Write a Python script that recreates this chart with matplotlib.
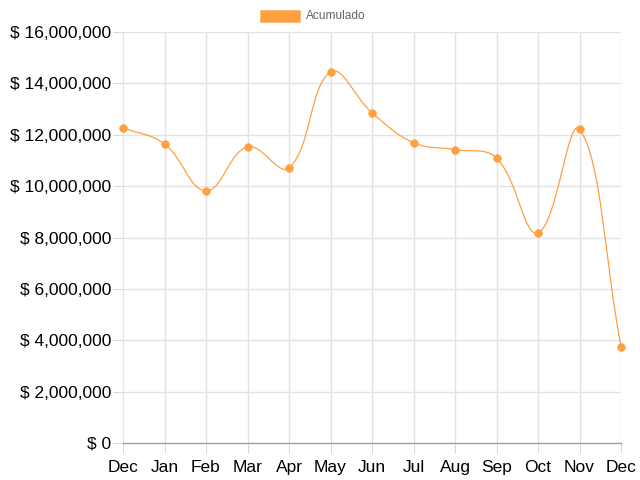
import matplotlib
matplotlib.use("Agg")
import matplotlib.pyplot as plt
import numpy as np
from matplotlib.path import Path
from matplotlib.patches import PathPatch, Rectangle
from matplotlib.ticker import FuncFormatter, MultipleLocator

months = ["Dec", "Jan", "Feb", "Mar", "Apr", "May", "Jun", "Jul", "Aug", "Sep", "Oct", "Nov", "Dec"]
acumulado = [12270000, 11640000, 9820000, 11530000, 10710000, 14440000, 12860000,
             11690000, 11420000, 11090000, 8180000, 12220000, 3750000]
series_label = "Acumulado"

ORANGE = "#FF9F40"
W, H = 640, 480
plt.rcParams["font.family"] = ["Liberation Sans", "DejaVu Sans"]

fig = plt.figure(figsize=(W / 100, H / 100), dpi=100)
L, R, T, B = 123, 621, 32, 443
ax = fig.add_axes([L / W, 1 - B / H, (R - L) / W, (B - T) / H])

x = np.arange(len(months))
ax.set_xlim(0, len(months) - 1)
ax.set_ylim(0, 16000000)

# Chart.js-style spline (tension 0.4) computed in pixel space
fig.canvas.draw()
pts = ax.transData.transform(np.column_stack([x, acumulado]))
t = 0.4
n = len(pts)
cp_prev = np.zeros_like(pts)
cp_next = np.zeros_like(pts)
for i in range(n):
    cur = pts[i]
    prv = pts[i - 1] if i > 0 else cur
    nxt = pts[i + 1] if i < n - 1 else cur
    d01 = np.hypot(*(cur - prv))
    d12 = np.hypot(*(nxt - cur))
    tot = d01 + d12
    s01 = d01 / tot if tot else 0
    s12 = d12 / tot if tot else 0
    cp_prev[i] = cur - t * s01 * (nxt - prv)
    cp_next[i] = cur + t * s12 * (nxt - prv)
verts = [pts[0]]
codes = [Path.MOVETO]
for i in range(n - 1):
    verts += [cp_next[i], cp_prev[i + 1], pts[i + 1]]
    codes += [Path.CURVE4] * 3
inv = ax.transData.inverted()
verts_data = inv.transform(np.array(verts))
ax.add_patch(PathPatch(Path(verts_data, codes), facecolor="none", edgecolor=ORANGE,
                       linewidth=0.9, zorder=3, clip_on=False))
ax.scatter(x, acumulado, s=30, color=ORANGE, edgecolors=ORANGE, linewidths=0.5, zorder=4, clip_on=False)

# grid / axes styling
ax.set_xticks(x)
ax.set_xticklabels(months)
ax.yaxis.set_major_locator(MultipleLocator(2000000))
ax.yaxis.set_major_formatter(FuncFormatter(lambda v, p: "$ {:,.0f}".format(v)))
ax.grid(True, color="#e3e3e3", linewidth=1.0)
ax.set_axisbelow(True)
for s in ["top", "right", "left"]:
    ax.spines[s].set_visible(False)
ax.spines["bottom"].set_color("#a0a0a0")
ax.spines["bottom"].set_linewidth(1.0)
ax.tick_params(axis="both", length=7.2, width=0.75, color="#d8d8d8", labelsize=12.5, labelcolor="black")
ax.tick_params(axis="y", pad=1)
ax.tick_params(axis="x", pad=5)

# legend
fig.patches.append(Rectangle((260 / W, 1 - 22 / H), 40 / W, 12 / H, transform=fig.transFigure,
                             facecolor=ORANGE, edgecolor="#FFB870", linewidth=0.6))
fig.text(306 / W, 1 - 16 / H, series_label, fontsize=8.6, color="#666666", va="center", ha="left")

fig.savefig("out.png", dpi=100)
